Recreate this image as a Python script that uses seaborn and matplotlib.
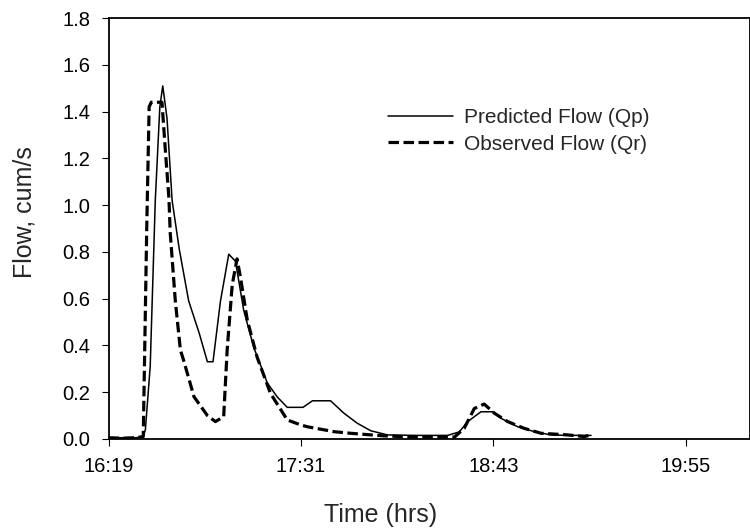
import numpy as np
import pandas as pd
import matplotlib
matplotlib.use("Agg")
import matplotlib.pyplot as plt
import seaborn as sns

# time in minutes after 16:19
pred_t = [0, 5, 10, 13, 13.8, 15.6, 17.5, 19.2, 20.3, 21.9, 23.8, 26.5, 30, 34, 37, 39.1,
          41.9, 45, 47.5, 50.6, 54.4, 59.4, 63.1, 66.9, 72.8, 76.3, 83.1, 88.1, 93.1,
          98.1, 104.4, 115, 126.9, 131.3, 134.4, 139.4, 143.8, 146.9, 153.1, 159.4,
          165.6, 172, 180.6]
pred_q = [0.005, 0.005, 0.005, 0.008, 0.04, 0.31, 1.02, 1.42, 1.51, 1.37, 1.02, 0.81, 0.59, 0.45, 0.33, 0.33,
          0.59, 0.79, 0.76, 0.55, 0.39, 0.24, 0.18, 0.135, 0.135, 0.163, 0.163, 0.11, 0.067,
          0.035, 0.017, 0.015, 0.015, 0.03, 0.074, 0.116, 0.116, 0.088, 0.052, 0.031,
          0.017, 0.015, 0.015]

obs_t = [0, 5, 10, 13, 14.3, 15.2, 16, 20, 21.3, 22.6, 23.1, 25, 26.9, 28, 30, 32, 37, 40, 43.1,
         44.4, 46.3, 48.1, 49.4, 51.9, 55.6, 60.6, 66.9, 71.9, 74.4, 84.4, 90.6, 102.9,
         115, 129.5, 133.1, 136.9, 140.6, 144.4, 149.4, 155.6, 161.9, 171.9, 178.1, 180.6]
obs_q = [0.005, 0.003, 0.005, 0.01, 0.9, 1.42, 1.44, 1.44, 1.23, 1.03, 0.88, 0.59, 0.38, 0.34, 0.26, 0.18, 0.10, 0.074, 0.095,
         0.38, 0.66, 0.77, 0.69, 0.51, 0.35, 0.195, 0.081, 0.06, 0.052, 0.031, 0.024, 0.013,
         0.008, 0.008, 0.045, 0.13, 0.149, 0.11, 0.074, 0.045, 0.024, 0.017, 0.01, 0.017]

tick_labels = ["16:19", "17:31", "18:43", "19:55"]

start = 16 * 60 + 19
tick_pos = [int(s.split(":")[0]) * 60 + int(s.split(":")[1]) - start for s in tick_labels]

pred = pd.DataFrame({"t": pred_t, "q": pred_q})
obs = pd.DataFrame({"t": obs_t, "q": obs_q})

sns.set_style("ticks")
plt.rcParams["font.family"] = ["Liberation Sans", "DejaVu Sans"]

fig = plt.figure(figsize=(7.5, 5.32), dpi=100)
ax = fig.add_axes([0.1447, 0.175, 0.855, 0.791])

sns.lineplot(data=pred, x="t", y="q", ax=ax, color="black", lw=1.1,
             label="Predicted Flow (Qp)")
sns.lineplot(data=obs, x="t", y="q", ax=ax, color="black", lw=2.3,
             linestyle=(0, (3.3, 1.4)), label="Observed Flow (Qr)")

ax.set_xlim(0, 240)
ax.set_ylim(0, 1.8)
ax.set_xticks(tick_pos)
ax.set_xticklabels(tick_labels)
ax.set_yticks(np.arange(0, 1.81, 0.2))
ax.set_yticklabels([f"{v:.1f}" for v in np.arange(0, 1.81, 0.2)])
ax.tick_params(axis="both", labelsize=14.5, length=5, width=0.8, colors="black", pad=8)
for s in ax.spines.values():
    s.set_color("black")
    s.set_linewidth(1.3)

ax.set_xlabel("Time (hrs)", fontsize=18)
ax.set_ylabel("Flow, cum/s", fontsize=18)
ax.xaxis.set_label_coords(0.424, -0.152)
ax.yaxis.set_label_coords(-0.112, 0.54)

ax.legend(loc="upper left", bbox_to_anchor=(0.42, 0.81), frameon=False, fontsize=15,
          borderpad=0, handlelength=3.1, handletextpad=0.53, labelspacing=0.35)

fig.savefig("out.png", dpi=100)
